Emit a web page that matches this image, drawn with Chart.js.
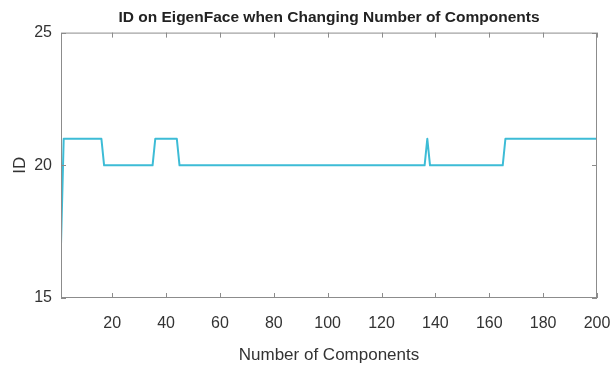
<!DOCTYPE html>
<html>
<head>
<meta charset="utf-8">
<script src="https://cdn.jsdelivr.net/npm/chart.js@4"></script>
<style>
  html, body { margin: 0; padding: 0; background: #fff; }
  #wrap { width: 613px; height: 370px; }
</style>
</head>
<body>
<div id="wrap"><canvas id="chart" width="613" height="370"></canvas></div>
<script>
// Number of components where the ID value changes, and the ID there
const components = [1, 2, 16, 17, 35, 36, 44, 45, 136, 137, 138, 165, 166, 200];
const idValues   = [17, 21, 21, 20, 20, 21, 21, 20, 20, 21, 20, 20, 21, 21];
const xTicks = [20, 40, 60, 80, 100, 120, 140, 160, 180, 200];
const yTicks = [15, 20, 25];

const FONT = "'Liberation Sans', Arial, sans-serif";
const AXIS = '#8c8c8c';

// MATLAB-style box with inward ticks
const boxTicks = {
  id: 'boxTicks',
  afterDatasetsDraw(chart) {
    const { ctx, chartArea: a, scales: { x, y } } = chart;
    ctx.save();
    ctx.strokeStyle = AXIS;
    ctx.lineWidth = 1;
    ctx.strokeRect(a.left + 0.5, a.top + 0.5, a.right - a.left - 1, a.bottom - a.top - 1);
    ctx.beginPath();
    for (const v of xTicks) {
      const px = Math.round(x.getPixelForValue(v)) + 0.5;
      ctx.moveTo(px, a.bottom); ctx.lineTo(px, a.bottom - 5);
      ctx.moveTo(px, a.top); ctx.lineTo(px, a.top + 5);
    }
    for (const v of yTicks) {
      const py = Math.round(y.getPixelForValue(v)) + 0.5;
      ctx.moveTo(a.left, py); ctx.lineTo(a.left + 5, py);
      ctx.moveTo(a.right, py); ctx.lineTo(a.right - 5, py);
    }
    ctx.stroke();
    ctx.restore();
  }
};

new Chart(document.getElementById('chart'), {
  type: 'line',
  data: {
    datasets: [{
      data: components.map((c, i) => ({ x: c, y: idValues[i] })),
      borderColor: '#3dbcd6',
      borderWidth: 2,
      borderJoinStyle: 'round',
      pointRadius: 0,
      tension: 0,
      fill: false,
    }],
  },
  options: {
    responsive: false,
    animation: false,
    layout: { padding: { left: 0, right: 16, top: 2, bottom: 0 } },
    plugins: {
      legend: { display: false },
      tooltip: { enabled: false },
      title: {
        display: true,
        fullSize: false,
        text: 'ID on EigenFace when Changing Number of Components',
        color: '#222',
        font: { family: FONT, size: 15.5, weight: 'bold' },
        padding: { top: 6, bottom: 6 },
      },
    },
    scales: {
      x: {
        type: 'linear',
        min: 1,
        max: 200,
        afterBuildTicks(scale) { scale.ticks = xTicks.map((v) => ({ value: v })); },
        afterFit(scale) {
          scale.height = 72;
          scale.paddingLeft = 0;
          scale.paddingRight = 0;
        },
        grid: { display: false },
        border: { display: false },
        ticks: { color: '#333', font: { family: FONT, size: 16 }, padding: 8 },
        title: {
          display: true,
          text: 'Number of Components',
          color: '#333',
          font: { family: FONT, size: 17 },
          padding: { top: 4 },
        },
      },
      y: {
        min: 15,
        max: 25,
        afterBuildTicks(scale) { scale.ticks = yTicks.map((v) => ({ value: v })); },
        afterFit(scale) { scale.width = 61; },
        grid: { display: false },
        border: { display: false },
        ticks: { color: '#333', font: { family: FONT, size: 16 }, padding: 1 },
        title: {
          display: true,
          text: 'ID',
          color: '#333',
          font: { family: FONT, size: 17 },
          padding: { top: 10, bottom: 4 },
        },
      },
    },
  },
  plugins: [boxTicks],
});
</script>
</body>
</html>
